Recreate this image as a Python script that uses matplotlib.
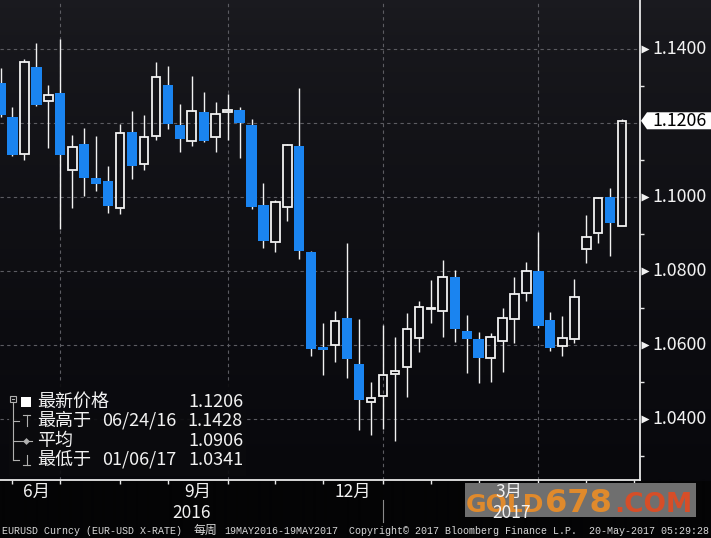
import numpy as np
import pandas as pd
import matplotlib
matplotlib.use("Agg")
import matplotlib.pyplot as plt
from matplotlib.patches import Rectangle, Polygon
from matplotlib.lines import Line2D
import matplotlib.transforms as mtrans

plt.rcParams['font.family'] = ['Noto Sans CJK SC', 'DejaVu Sans']

# --- datos semanales EURUSD (viernes) ---
fechas = pd.date_range('2016-05-20', periods=53, freq='W-FRI')
aperturas = [1.1308, 1.1216, 1.1116, 1.1351, 1.1259, 1.1281, 1.1073, 1.1143, 1.1051, 1.1043,
             1.0970, 1.1176, 1.1089, 1.1165, 1.1303, 1.1195, 1.1151, 1.1230, 1.1162, 1.1230,
             1.1235, 1.1195, 1.0978, 1.0878, 1.0973, 1.1138, 1.0851, 1.0595, 1.0600, 1.0673,
             1.0549, 1.0446, 1.0462, 1.0522, 1.0541, 1.0619, 1.0697, 1.0692, 1.0784, 1.0638,
             1.0616, 1.0565, 1.0611, 1.0670, 1.0741, 1.0800, 1.0668, 1.0597, 1.0616, 1.0859,
             1.0903, 1.1000, 1.0922]
cierres = [1.1222, 1.1114, 1.1365, 1.1249, 1.1276, 1.1114, 1.1135, 1.1051, 1.1035, 1.0976,
           1.1173, 1.1084, 1.1162, 1.1324, 1.1197, 1.1157, 1.1232, 1.1151, 1.1224, 1.1234,
           1.1200, 1.0973, 1.0881, 1.0986, 1.1141, 1.0854, 1.0589, 1.0586, 1.0665, 1.0562,
           1.0451, 1.0457, 1.0519, 1.0530, 1.0643, 1.0703, 1.0700, 1.0784, 1.0643, 1.0616,
           1.0565, 1.0622, 1.0673, 1.0738, 1.0800, 1.0651, 1.0592, 1.0619, 1.0730, 1.0892,
           1.0997, 1.0930, 1.1206]
maximos = [1.1349, 1.1243, 1.1373, 1.1416, 1.1303, 1.1428, 1.1168, 1.1186, 1.1165, 1.1084,
           1.1197, 1.1232, 1.1222, 1.1365, 1.1354, 1.1251, 1.1327, 1.1284, 1.1257, 1.1278,
           1.1243, 1.1211, 1.1038, 1.0992, 1.1143, 1.1295, 1.0854, 1.0659, 1.0692, 1.0876,
           1.0670, 1.0500, 1.0654, 1.0622, 1.0686, 1.0719, 1.0776, 1.0830, 1.0803, 1.0681,
           1.0635, 1.0632, 1.0700, 1.0784, 1.0824, 1.0905, 1.0689, 1.0678, 1.0778, 1.0951,
           1.0999, 1.1024, 1.1211]
minimos = [1.1216, 1.1111, 1.1100, 1.1246, 1.1132, 1.0914, 1.0970, 1.1003, 1.1016, 1.0957,
           1.0954, 1.1049, 1.1073, 1.1154, 1.1184, 1.1122, 1.1138, 1.1149, 1.1122, 1.1154,
           1.1105, 1.0968, 1.0862, 1.0851, 1.0935, 1.0832, 1.0570, 1.0519, 1.0554, 1.0511,
           1.0370, 1.0357, 1.0373, 1.0341, 1.0459, 1.0581, 1.0659, 1.0622, 1.0608, 1.0524,
           1.0497, 1.0500, 1.0527, 1.0605, 1.0719, 1.0646, 1.0584, 1.0570, 1.0605, 1.0822,
           1.0876, 1.0841, 1.0922]

niveles = [1.04, 1.06, 1.08, 1.10, 1.12, 1.14]
etiquetas_y = ['1.0400', '1.0600', '1.0800', '1.1000', '', '1.1400']
menores_y = [1.03, 1.05, 1.07, 1.09, 1.11, 1.13]
ultimo = 1.1206

meses_etiqueta = {6: '6月', 9: '9月', 12: '12月', 3: '3月'}
anios = {9: '2016', 3: '2017'}

leyenda = [('最新价格', '', '1.1206'),
           ('最高于', '06/24/16', '1.1428'),
           ('平均', '', '1.0906'),
           ('最低于', '01/06/17', '1.0341')]

pie = [(2, 'EURUSD Curncy (EUR-USD X-RATE)'), (194, '每周'), (224, '19MAY2016-19MAY2017'),
       (349, 'Copyright© 2017 Bloomberg Finance L.P.'), (589, '20-May-2017 05:29:28')]

W, H = 711, 538
AZUL = '#1a84f0'
BLANCO = '#f2f2f2'
GRIS = '#5c5c62'

def fx(x):
    return x / W

def fy(y):
    return 1 - y / H

fig = plt.figure(figsize=(W / 100, H / 100), dpi=100)
fig.patch.set_facecolor('#040405')

# fondo degradado
bg = fig.add_axes([0, 0, 1, 1], zorder=-10)
filas = np.arange(H)
t = np.clip(filas / 479.0, 0, 1) ** 0.7
arriba = np.array([27, 27, 32]) / 255
abajo = np.array([8, 8, 12]) / 255
grad = (arriba[None, :] * (1 - t[:, None]) + abajo[None, :] * t[:, None])
grad[filas >= 481] = np.array([4, 4, 5]) / 255
bg.imshow(grad[:, None, :], aspect='auto', extent=[0, 1, 0, 1], interpolation='bilinear')
bg.axis('off')

ax = fig.add_axes([0, 58 / H, 640 / W, 480 / H])
ax.set_facecolor('none')
n = len(cierres)
ax.set_xlim(-0.042, 53.5)
ax.set_ylim(1.02351, 1.15324)

# rejilla
for nv in niveles:
    ax.axhline(nv, color=GRIS, lw=0.8, ls=(0, (3, 3)), zorder=1)

semanas = pd.date_range(fechas[0], periods=n + 1, freq='W-FRI')
fin_mes = [i for i in range(len(semanas)) if i + 1 >= len(semanas) or semanas[i + 1].month != semanas[i].month]
for i in fin_mes:
    if semanas[i].month in (3, 6, 9, 12):
        ax.axvline(i, color=GRIS, lw=0.8, ls=(0, (3, 3)), zorder=1)

# velas
for i in range(n):
    o, c, hi, lo = aperturas[i], cierres[i], maximos[i], minimos[i]
    top, bot = max(o, c), min(o, c)
    if c >= o:
        ax.plot([i, i], [top, hi], color=BLANCO, lw=1.0, zorder=3, solid_capstyle='butt')
        ax.plot([i, i], [lo, bot], color=BLANCO, lw=1.0, zorder=3, solid_capstyle='butt')
        ax.add_patch(Rectangle((i - 0.36, bot), 0.72, max(top - bot, 0.0002),
                               facecolor='none', edgecolor=BLANCO, lw=1.3, zorder=4))
    else:
        ax.plot([i, i], [lo, hi], color=BLANCO, lw=1.0, zorder=3, solid_capstyle='butt')
        ax.add_patch(Rectangle((i - 0.43, bot), 0.86, top - bot,
                               facecolor=AZUL, edgecolor='none', zorder=4))

# ejes
for s in ['top', 'left']:
    ax.spines[s].set_visible(False)
for s in ['right', 'bottom']:
    ax.spines[s].set_color('#e8e8e8')
    ax.spines[s].set_linewidth(1.3)
ax.yaxis.tick_right()
ax.set_yticks(menores_y)
ax.set_yticklabels([])
ax.tick_params(axis='y', length=3, width=1, color='#e8e8e8', direction='out')
ax.set_xticks(fin_mes)
ax.set_xticklabels([])
ax.tick_params(axis='x', length=3, width=1, color='#e8e8e8', direction='out')

ytr = ax.get_yaxis_transform()
for nv, et in zip(niveles, etiquetas_y):
    if et:
        ax.plot([1.0075], [nv], marker='>', ms=6, color=BLANCO, mec='none',
                transform=ytr, clip_on=False)
        ax.text(1.019, nv, et, transform=ytr, color=BLANCO, fontsize=12.8,
                va='center', ha='left')

# etiqueta del último precio
yl = 49 + (1.14 - ultimo) * 3700
fig.add_artist(Polygon([(fx(641), fy(yl)), (fx(647), fy(yl - 8.5)), (fx(711), fy(yl - 8.5)),
                        (fx(711), fy(yl + 8.5)), (fx(647), fy(yl + 8.5))],
                       closed=True, facecolor='white', edgecolor='none',
                       transform=fig.transFigure))
fig.text(fx(652), fy(yl), f'{ultimo:.4f}', color='black', fontsize=12.8, va='center', ha='left')

# marca de agua
fig.add_artist(Rectangle((fx(465), fy(517)), fx(231), 34 / H, facecolor='#6f6f6f',
                         edgecolor='none', transform=fig.transFigure, zorder=2))
fig.text(fx(466), fy(512), 'GOLD', color='#e08a2c', fontsize=18, weight='bold',
         family='DejaVu Sans', va='baseline', zorder=3)
fig.text(fx(545), fy(512), '678', color='#e08a2c', fontsize=23, weight='bold',
         family='DejaVu Sans', va='baseline', zorder=3)
fig.text(fx(614), fy(512), '.COM', color='#d64e28', fontsize=19, weight='bold',
         family='DejaVu Sans', va='baseline', zorder=3)

# etiquetas de meses (encima de la marca de agua)
xtr = mtrans.blended_transform_factory(ax.transData, fig.transFigure)
desplaz_anio = {9: -6, 3: 3}
for k in range(1, len(fin_mes)):
    mes = semanas[fin_mes[k]].month
    if mes in meses_etiqueta:
        xm = (fin_mes[k - 1] + fin_mes[k]) / 2
        xpx = ax.transData.transform((xm, 0))[0]
        fig.text(xpx / W, fy(491.5), meses_etiqueta[mes], color=BLANCO,
                 fontsize=12.5, ha='center', va='center', zorder=6)
        if mes in anios:
            fig.text((xpx + desplaz_anio[mes]) / W, fy(512.5), anios[mes], color=BLANCO,
                     fontsize=12.5, ha='center', va='center', zorder=6)
i_anio = [i for i in fin_mes if semanas[i].month == 12][0]
ax.plot([i_anio, i_anio], [fy(500), fy(522)], color='#8a8a8a', lw=0.8,
        transform=xtr, clip_on=False)

# caja de leyenda
fig.add_artist(Rectangle((fx(9), fy(476)), fx(237), 95 / H, facecolor='#0b0b0e', alpha=0.92,
                         edgecolor='none', transform=fig.transFigure))
filas_y = [401.7, 420.7, 440.7, 460]
for (et, fecha, val), y in zip(leyenda, filas_y):
    fig.text(fx(37), fy(y), et, color=BLANCO, fontsize=13, va='center', ha='left')
    if fecha:
        fig.text(fx(102), fy(y), fecha, color=BLANCO, fontsize=13, va='center', ha='left')
    fig.text(fx(243), fy(y), val, color=BLANCO, fontsize=13, va='center', ha='right')

gris_arbol = '#b0b0b0'
def linea(xs, ys, **kw):
    fig.add_artist(Line2D([fx(x) for x in xs], [fy(y) for y in ys], transform=fig.transFigure,
                          color=kw.pop('color', gris_arbol), lw=kw.pop('lw', 0.8), **kw))

fig.add_artist(Rectangle((fx(10), fy(402)), 6 / W, 6 / H, facecolor='none', edgecolor=gris_arbol,
                         lw=0.8, transform=fig.transFigure))
linea([11.5, 14.5], [399, 399])
linea([13, 13], [402, 460])
linea([13, 19], [420.7, 420.7])
linea([13, 19], [440.7, 440.7])
linea([13, 19], [460, 460])
fig.add_artist(Rectangle((fx(21), fy(406.5)), 10 / W, 10 / H, facecolor='white',
                         edgecolor='none', transform=fig.transFigure))
linea([23, 30], [415, 415])
linea([26.5, 26.5], [415, 426])
linea([20, 32], [440.7, 440.7])
linea([26], [440.7], marker='D', ms=3.5, mfc=gris_arbol, mec='none', ls='none')
linea([26.5, 26.5], [455, 465])
linea([23, 30], [465, 465])

# pie
for x, s in pie:
    tam = 8.6 if s == '每周' else 7.2
    fig.text(fx(x), fy(530.5), s, color='#d8d8d8', fontsize=tam,
             family=['Liberation Mono', 'Noto Sans CJK SC'], va='center', ha='left')

fig.savefig('out.png', dpi=100, facecolor=fig.get_facecolor())
